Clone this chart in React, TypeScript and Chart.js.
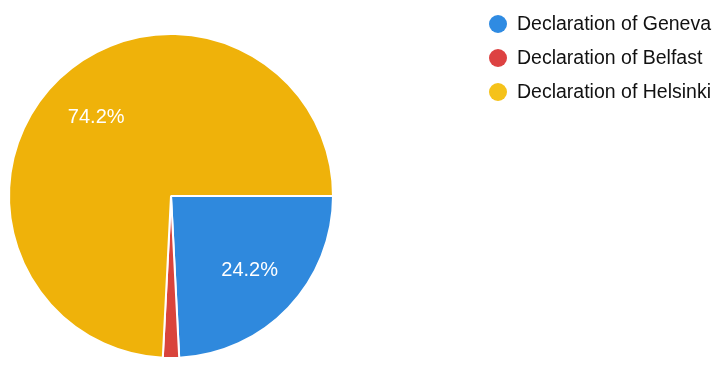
import React, { useEffect, useRef } from "react";
import { Chart, registerables } from "chart.js";

Chart.register(...registerables);

const categories = ["Declaration of Geneva", "Declaration of Belfast", "Declaration of Helsinki"];
const responses = [15, 1, 46];
const sliceColors = ["#2F89DD", "#D9443C", "#EFB20A"];
const legendColors = ["#2F8BE2", "#DD4242", "#F5C21A"];

const sliceLabelPlugin = {
  id: "sliceLabels",
  afterDatasetsDraw(chart: any) {
    const meta = chart.getDatasetMeta(0);
    const data = chart.data.datasets[0].data as number[];
    const total = data.reduce((a, b) => a + b, 0);
    const ctx = chart.ctx;
    ctx.save();
    ctx.fillStyle = "#ffffff";
    ctx.font = "20px 'Liberation Sans', Arial, sans-serif";
    ctx.textAlign = "center";
    ctx.textBaseline = "middle";
    meta.data.forEach((arc: any, i: number) => {
      const pct = (data[i] / total) * 100;
      if (pct < 5) return;
      const { x, y, startAngle, endAngle, outerRadius } = arc.getProps(
        ["x", "y", "startAngle", "endAngle", "outerRadius"],
        true
      );
      const mid = (startAngle + endAngle) / 2;
      const r = outerRadius * 0.67;
      ctx.fillText(pct.toFixed(1) + "%", x + Math.cos(mid) * r, y + Math.sin(mid) * r);
    });
    ctx.restore();
  },
};

const sideLegendPlugin = {
  id: "sideLegend",
  afterDraw(chart: any, _args: any, opts: any) {
    const ctx = chart.ctx;
    const labels = chart.data.labels as string[];
    ctx.save();
    ctx.font = "19.5px 'Liberation Sans', Arial, sans-serif";
    ctx.textBaseline = "middle";
    ctx.textAlign = "left";
    labels.forEach((label, i) => {
      const cy = opts.top + i * opts.spacing;
      ctx.beginPath();
      ctx.fillStyle = legendColors[i];
      ctx.arc(opts.left, cy, opts.dot, 0, Math.PI * 2);
      ctx.fill();
      ctx.fillStyle = "#111111";
      ctx.fillText(label, opts.textLeft, cy + 1);
    });
    ctx.restore();
  },
};

export default function App() {
  const canvasRef = useRef<HTMLCanvasElement | null>(null);

  useEffect(() => {
    document.body.style.margin = "0";
    const canvas = canvasRef.current;
    if (!canvas) return;
    const chart = new Chart(canvas, {
      type: "pie",
      data: {
        labels: categories,
        datasets: [
          {
            data: responses,
            backgroundColor: sliceColors,
            borderColor: "#ffffff",
            borderWidth: 2,
          },
        ],
      },
      options: {
        animation: false,
        responsive: true,
        maintainAspectRatio: false,
        rotation: 90,
        layout: { padding: { left: 8, right: 388, top: 33, bottom: 12 } },
        plugins: {
          legend: { display: false },
          tooltip: { enabled: false },
          sideLegend: { left: 498, textLeft: 517, top: 24, spacing: 34, dot: 9 },
        } as any,
      },
      plugins: [sliceLabelPlugin, sideLegendPlugin],
    });
    return () => chart.destroy();
  }, []);

  return (
    <div style={{ width: 722, height: 371, position: "relative", background: "#ffffff" }}>
      <canvas ref={canvasRef} />
    </div>
  );
}
